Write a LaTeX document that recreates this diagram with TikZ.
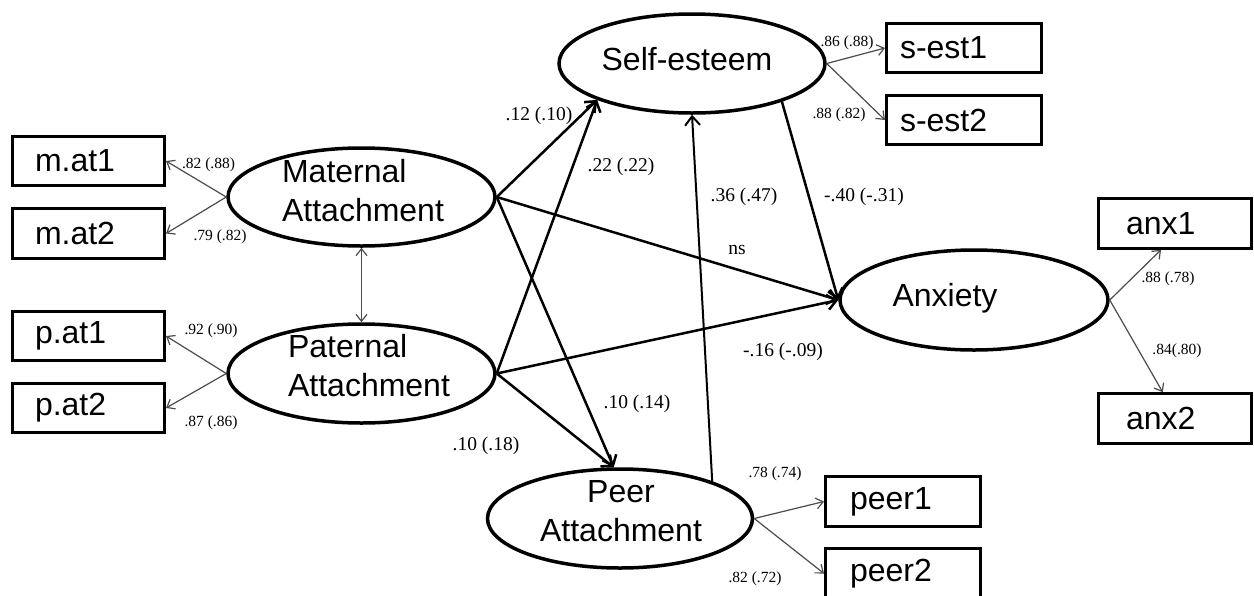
\documentclass[tikz,border=0pt]{standalone}
\usepackage{fontspec}
\setmainfont{Liberation Serif}
\newfontfamily\arialf{Liberation Sans}
\usetikzlibrary{arrows.meta,shapes.geometric}
\begin{document}
\begin{tikzpicture}[x=1pt,y=-1pt,
  lat/.style={ellipse, draw, line width=3.5pt, inner sep=0pt},
  obs/.style 2 args={draw, line width=3pt, minimum height=49.5pt, inner ysep=0pt,
    inner xsep=#1, text width=#2, align=left, font=\arialf\fontsize{32}{38}\selectfont},
  ltxt/.style={inner sep=0pt, font=\arialf\fontsize{32}{39}\selectfont},
  strong/.style={line width=2.5pt, -{Straight Barb[length=9pt,width=15pt]}},
  weak/.style={line width=1.2pt, draw=black!70, -{Straight Barb[length=7pt,width=11pt]}},
  lo/.style={inner sep=0pt, anchor=base, font=\fontsize{15.5}{18}\selectfont},
  pl/.style={inner sep=0pt, anchor=base, font=\fontsize{19.5}{22}\selectfont}]
\useasboundingbox[fill=white] (0,0) rectangle (1254,595);
\clip (0,0) rectangle (1254,595);

% latent variables
\node[lat, minimum width=267pt, minimum height=98pt] (mat) at (361.5,197) {};
\node[lat, minimum width=267pt, minimum height=99pt] (pat) at (361.5,373.5) {};
\node[lat, minimum width=266pt, minimum height=99pt] (se) at (692,63.5) {};
\node[lat, minimum width=268pt, minimum height=100pt] (anx) at (974,300) {};
\node[lat, minimum width=265pt, minimum height=99pt] (peer) at (620,518.5) {};

\node[ltext/.style={}, ltxt, align=left] (matT) at (363,191) {Maternal\\Attachment};
\node[ltxt, align=left] (patT) at (369,365.5) {Paternal\\Attachment};
\node[ltxt, anchor=base] (seT) at (687,70) {Self-esteem};
\node[ltxt, anchor=base] (anxT) at (945,306) {Anxiety};
\node[ltxt, align=center] (peerT) at (621,511) {Peer\\Attachment};

% observed variables
\node[obs={22.5pt}{107pt}] (mat1) at (88.5,161) {m.at1};
\node[obs={22.5pt}{107pt}] (mat2) at (88.5,233.5) {m.at2};
\node[obs={22.5pt}{107pt}] (pat1) at (88.5,336) {p.at1};
\node[obs={22.5pt}{107pt}] (pat2) at (88.5,408) {p.at2};
\node[obs={13.5pt}{128pt}] (sest1) at (964,48) {s-est1};
\node[obs={13.5pt}{128pt}] (sest2) at (964,120) {s-est2};
\node[obs={27.5pt}{98pt}] (anx1) at (1175,223.5) {anx1};
\node[obs={27.5pt}{98pt}] (anx2) at (1175,418.5) {anx2};
\node[obs={24.5pt}{106pt}] (peer1) at (903,501.5) {peer1};
\node[obs={24.5pt}{106pt}] (peer2) at (903,573.5) {peer2};

% measurement paths
\draw[weak] (mat.west) -- (mat1.east);
\draw[weak] (mat.west) -- (mat2.east);
\draw[weak] (pat.west) -- (pat1.east);
\draw[weak] (pat.west) -- (pat2.east);
\draw[weak] (se.east) -- (sest1.west);
\draw[weak] (se.east) -- (sest2.west);
\draw[weak] (anx.east) -- (anx1.242);
\draw[weak] (anx.east) -- (anx2.115);
\draw[weak] (peer.east) -- (peer1.west);
\draw[weak] (peer.east) -- (peer2.west);
\draw[weak, {Straight Barb[length=7pt,width=11pt]}-{Straight Barb[length=7pt,width=11pt]}] (mat.south) -- (pat.north);

% structural paths
\draw[strong] (mat.east) -- (se.201);
\draw[strong] (pat.east) -- (se.201);
\draw[strong] (mat.east) -- (peer.97);
\draw[strong] (pat.east) -- (peer.97);
\draw[strong] (mat.east) -- (anx.west);
\draw[strong] (pat.east) -- (anx.west);
\draw[strong] (se.-23) -- (anx.west);
\draw[strong, line width=2pt] (peer.22) -- (se.south);

% loading labels
\node[lo] (l1) at (208.5,168) {.82 (.88)};
\node[lo] (l2) at (220,240) {.79 (.82)};
\node[lo] (l3) at (211,334) {.92 (.90)};
\node[lo] (l4) at (211,426) {.87 (.86)};
\node[lo] (l5) at (847,46) {.86 (.88)};
\node[lo] (l6) at (839,118) {.88 (.82)};
\node[lo] (l7) at (1168,282) {.88 (.78)};
\node[lo] (l8) at (1177,354) {.84(.80)};
\node[lo] (l9) at (775,477) {.78 (.74)};
\node[lo] (l10) at (755,582) {.82 (.72)};

% path labels
\node[pl] (p1) at (539,120) {.12 (.10)};
\node[pl] (p2) at (621,171) {.22 (.22)};
\node[pl] (p3) at (744,201) {.36 (.47)};
\node[pl] (p4) at (864,201) {-.40 (-.31)};
\node[pl] (p5) at (737,254) {ns};
\node[pl] (p6) at (783,356) {-.16 (-.09)};
\node[pl] (p7) at (637,408) {.10 (.14)};
\node[pl] (p8) at (486,450) {.10 (.18)};
\end{tikzpicture}
\end{document}
